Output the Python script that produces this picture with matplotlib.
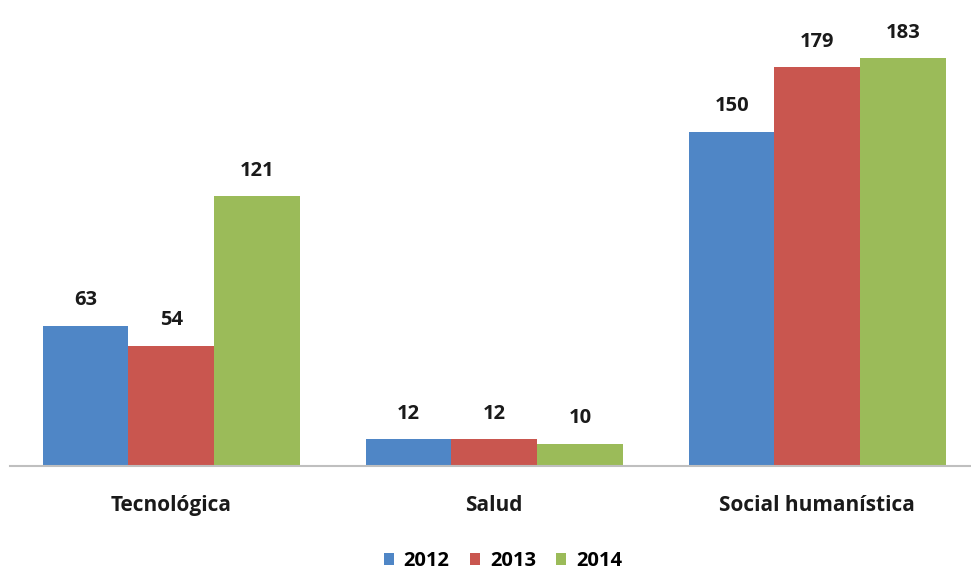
import numpy as np
import matplotlib.pyplot as plt

plt.rcParams['font.family'] = ['Open Sans', 'DejaVu Sans']

categories = ['Tecnológica', 'Salud', 'Social humanística']
years = ['2012', '2013', '2014']
values_2012 = [63, 12, 150]
values_2013 = [54, 12, 179]
values_2014 = [121, 10, 183]
colors = ['#4F86C6', '#C9564F', '#9BBB59']

fig = plt.figure(figsize=(9.71, 5.76), dpi=100)
ax = fig.add_axes([0.01, 0.191, 0.998, 0.774])

x = np.arange(len(categories))
w = 0.265
for i, (vals, lab, c) in enumerate(zip([values_2012, values_2013, values_2014], years, colors)):
    bars = ax.bar(x + (i - 1) * w, vals, w, color=c, label=lab)
    ax.bar_label(bars, padding=11, fontsize=14.5, fontweight='bold', color='#1a1a1a')

ax.set_xlim(-0.5, 2.5)
ax.set_ylim(0, 200)
ax.set_yticks([])
ax.set_xticks(x)
ax.set_xticklabels(categories, fontsize=15, fontweight='bold', color='#1a1a1a')
ax.tick_params(axis='x', length=0, pad=21)
for s in ['top', 'right', 'left']:
    ax.spines[s].set_visible(False)
ax.spines['bottom'].set_color('#BFBFBF')
ax.spines['bottom'].set_linewidth(1.5)

fig.legend(loc='center', bbox_to_anchor=(0.518, 0.026), ncol=3, frameon=False,
           handlelength=0.5, handleheight=0.5, handletextpad=0.5, columnspacing=1.0,
           prop={'size': 14.5, 'weight': 'bold'})

fig.savefig('out.png', dpi=100)
